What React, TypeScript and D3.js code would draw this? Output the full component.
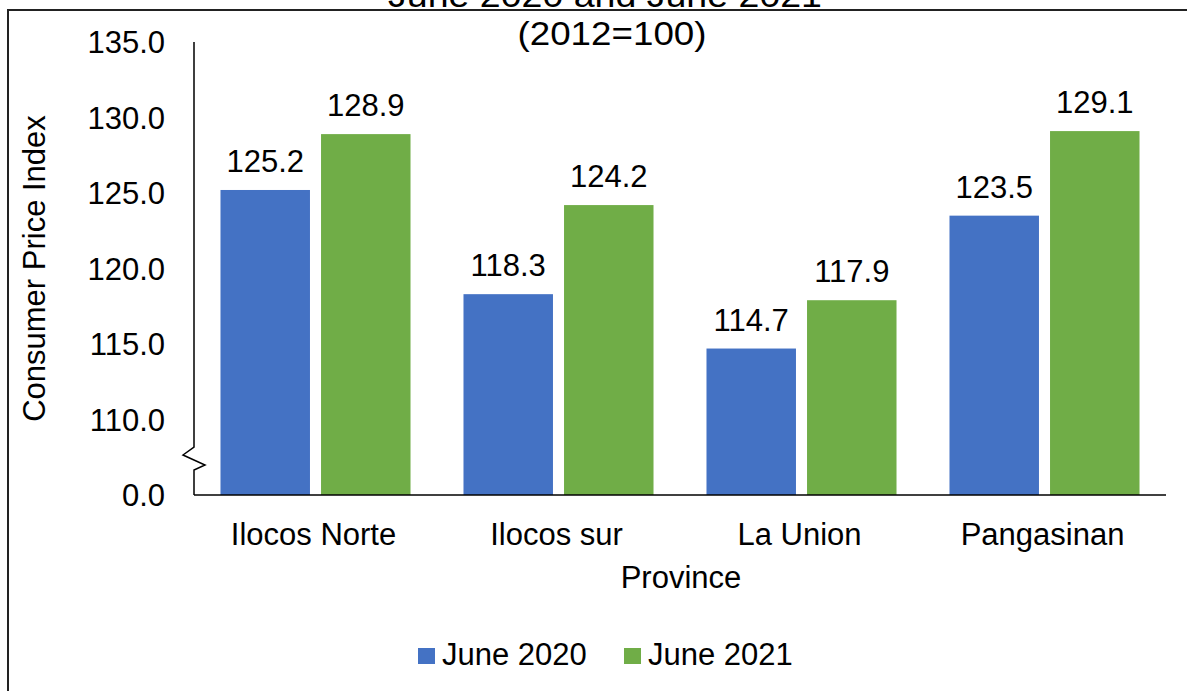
import React, { useEffect, useRef } from 'react';
import * as d3 from 'd3';

const provinces = ['Ilocos Norte', 'Ilocos sur', 'La Union', 'Pangasinan'];
const seriesNames = ['June 2020', 'June 2021'];
const june2020 = [125.2, 118.3, 114.7, 123.5];
const june2021 = [128.9, 124.2, 117.9, 129.1];
const seriesColors = ['#4472C4', '#70AD47'];
// the axis is broken: the lowest tick reads 0.0
const yTickValues = [105, 110, 115, 120, 125, 130, 135];
const yTickLabels = ['0.0', '110.0', '115.0', '120.0', '125.0', '130.0', '135.0'];

const FONT = '"Liberation Sans", Arial, sans-serif';
const FS = '31px';

const App: React.FC = () => {
  const svgRef = useRef<SVGSVGElement>(null);

  useEffect(() => {
    if (!svgRef.current) return;
    const svg = d3.select(svgRef.current);
    svg.selectAll('*').remove();

    const left = 194;
    const right = 1166;
    const top = 42;
    const bottom = 495;

    const x0 = d3.scaleBand<string>()
      .domain(provinces)
      .range([left, right])
      .paddingInner(0.218)
      .paddingOuter(0.109);

    const x1 = d3.scaleBand<string>()
      .domain(seriesNames)
      .range([0, x0.bandwidth()])
      .paddingInner(0.11);

    const y = d3.scaleLinear().domain([105, 135]).range([bottom, top]);

    // outer border (only left and top visible)
    svg.append('path')
      .attr('d', `M8,${691} L8,10 L1187,10`)
      .attr('fill', 'none')
      .attr('stroke', '#222')
      .attr('stroke-width', 2);

    // titles (first line cut off by the top edge)
    svg.append('text')
      .attr('x', 605).attr('y', 7)
      .attr('text-anchor', 'middle')
      .attr('textLength', 434).attr('lengthAdjust', 'spacingAndGlyphs')
      .style('font-family', FONT).style('font-size', '33px').style('fill', '#000')
      .text('June 2020 and June 2021');
    svg.append('text')
      .attr('x', 612).attr('y', 45)
      .attr('text-anchor', 'middle')
      .attr('textLength', 189).attr('lengthAdjust', 'spacingAndGlyphs')
      .style('font-family', FONT).style('font-size', '33px').style('fill', '#000')
      .text('(2012=100)');

    // y tick labels
    svg.append('g').selectAll('text')
      .data(yTickValues)
      .enter()
      .append('text')
      .attr('x', 165)
      .attr('y', d => y(d))
      .attr('dy', '0.36em')
      .attr('text-anchor', 'end')
      .style('font-family', FONT).style('font-size', FS).style('fill', '#000')
      .text((d, i) => yTickLabels[i]);

    // bars
    const series = [june2020, june2021];
    series.forEach((vals, s) => {
      svg.append('g').selectAll('rect')
        .data(vals)
        .enter()
        .append('rect')
        .attr('x', (d, i) => (x0(provinces[i]) || 0) + (x1(seriesNames[s]) || 0))
        .attr('y', d => y(d))
        .attr('width', x1.bandwidth())
        .attr('height', d => bottom - y(d))
        .attr('fill', seriesColors[s]);

      svg.append('g').selectAll('text')
        .data(vals)
        .enter()
        .append('text')
        .attr('x', (d, i) => (x0(provinces[i]) || 0) + (x1(seriesNames[s]) || 0) + x1.bandwidth() / 2)
        .attr('y', d => y(d) - 18)
        .attr('text-anchor', 'middle')
        .style('font-family', FONT).style('font-size', FS).style('fill', '#000')
        .text(d => d.toFixed(1));
    });

    // y axis line with break
    svg.append('path')
      .attr('d', `M${left},${top} L${left},447 L183,455 L205,465 L${left},470 L${left},${bottom}`)
      .attr('fill', 'none')
      .attr('stroke', '#000')
      .attr('stroke-width', 1.5);

    // x axis line
    svg.append('line')
      .attr('x1', left).attr('x2', right)
      .attr('y1', bottom).attr('y2', bottom)
      .attr('stroke', '#000')
      .attr('stroke-width', 1.5);

    // category labels
    svg.append('g').selectAll('text')
      .data(provinces)
      .enter()
      .append('text')
      .attr('x', d => (x0(d) || 0) + x0.bandwidth() / 2 - 2)
      .attr('y', 545)
      .attr('text-anchor', 'middle')
      .style('font-family', FONT).style('font-size', FS).style('fill', '#000')
      .text(d => d);

    // axis titles
    svg.append('text')
      .attr('x', 681).attr('y', 588)
      .attr('text-anchor', 'middle')
      .style('font-family', FONT).style('font-size', FS).style('fill', '#000')
      .text('Province');
    svg.append('text')
      .attr('transform', `translate(45,${(top + bottom) / 2}) rotate(-90)`)
      .attr('text-anchor', 'middle')
      .style('font-family', FONT).style('font-size', FS).style('fill', '#000')
      .text('Consumer Price Index');

    // legend
    const legendX = [418, 624];
    seriesNames.forEach((name, i) => {
      const g = svg.append('g').attr('transform', `translate(${legendX[i]},648)`);
      g.append('rect')
        .attr('width', 17).attr('height', 16)
        .attr('fill', seriesColors[i]);
      g.append('text')
        .attr('x', 24).attr('y', 17)
        .style('font-family', FONT).style('font-size', FS).style('fill', '#000')
        .text(name);
    });
  }, []);

  return (
    <svg
      ref={svgRef}
      width={1187}
      height={691}
      style={{ position: 'absolute', left: 0, top: 0, background: '#fff' }}
    />
  );
};

export default App;
